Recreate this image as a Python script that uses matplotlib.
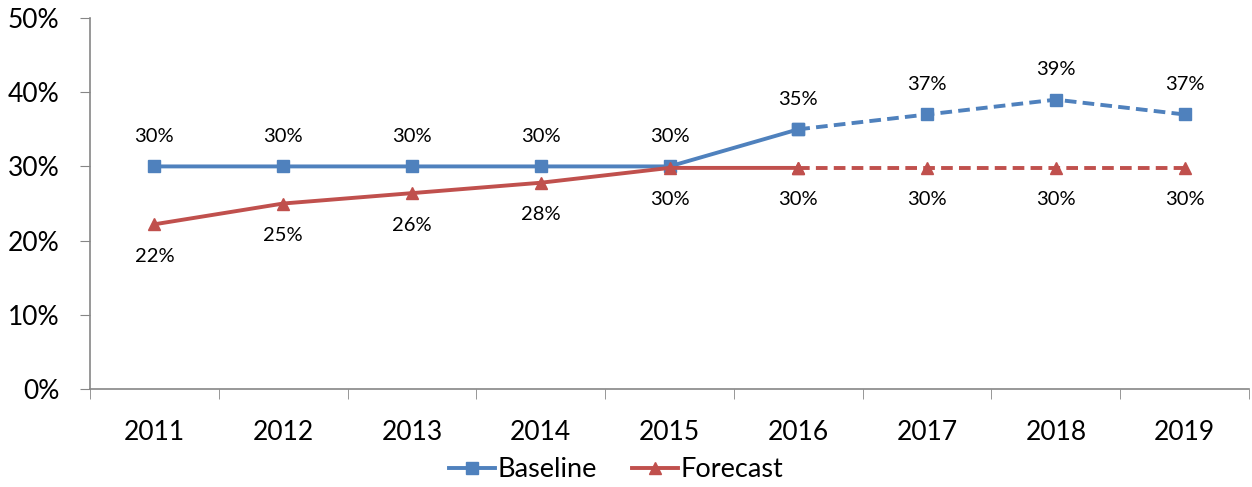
import matplotlib.pyplot as plt
from matplotlib.ticker import FuncFormatter, FixedLocator

plt.rcParams["font.family"] = ["Lato", "DejaVu Sans"]

years = ["2011", "2012", "2013", "2014", "2015", "2016", "2017", "2018", "2019"]
baseline = [30, 30, 30, 30, 30, 35, 37, 39, 37]
forecast = [22.2, 25.0, 26.4, 27.8, 29.8, 29.8, 29.8, 29.8, 29.8]
baseline_labels = ["30%", "30%", "30%", "30%", "30%", "35%", "37%", "39%", "37%"]
forecast_labels = ["22%", "25%", "26%", "28%", "30%", "30%", "30%", "30%", "30%"]
split = 5  # solid up to 2016, dashed after

blue = "#4F81BD"
red = "#C0504D"
axis_col = "#868686"

fig = plt.figure(figsize=(12.52, 4.87), dpi=100)
ax = fig.add_axes([0.0719, 0.2012, 0.9257, 0.7618])

x = list(range(len(years)))

ax.plot(x[:split + 1], baseline[:split + 1], color=blue, lw=2.8, marker="s", ms=8, label="Baseline")
ax.plot(x[split:], baseline[split:], color=blue, lw=2.8, ls=(0, (3, 1.6)), marker="s", ms=8)
ax.plot(x[:split + 1], forecast[:split + 1], color=red, lw=2.8, marker="^", ms=8, label="Forecast")
ax.plot(x[split:], forecast[split:], color=red, lw=2.8, ls=(0, (3, 1.6)), marker="^", ms=8)

for i in x:
    ax.annotate(baseline_labels[i], (i, baseline[i]), xytext=(0, 30), textcoords="offset pixels",
                ha="center", va="center", fontsize=14.5)
    ax.annotate(forecast_labels[i], (i, forecast[i]), xytext=(0, -32), textcoords="offset pixels",
                ha="center", va="center", fontsize=14.5)

ax.set_xlim(-0.5, len(years) - 0.5)
ax.set_ylim(0, 50)
ax.set_yticks([0, 10, 20, 30, 40, 50])
ax.yaxis.set_major_formatter(FuncFormatter(lambda v, p: f"{v:.0f}%"))
ax.set_xticks(x)
ax.set_xticklabels(years)
ax.xaxis.set_minor_locator(FixedLocator([i - 0.5 for i in range(len(years) + 1)]))
ax.tick_params(axis="x", which="major", length=0, labelsize=19, pad=22)
ax.tick_params(axis="x", which="minor", length=7, color=axis_col, direction="out")
ax.tick_params(axis="y", length=7, color=axis_col, labelsize=19, pad=15)

for s in ["top", "right"]:
    ax.spines[s].set_visible(False)
for s in ["left", "bottom"]:
    ax.spines[s].set_color(axis_col)
    ax.spines[s].set_linewidth(1.2)

fig.legend(loc="center", bbox_to_anchor=(0.492, 0.035), ncol=2, frameon=False, fontsize=19.5,
           handlelength=1.7, handletextpad=0.1, columnspacing=1.3)

fig.savefig("out.png", dpi=100)
